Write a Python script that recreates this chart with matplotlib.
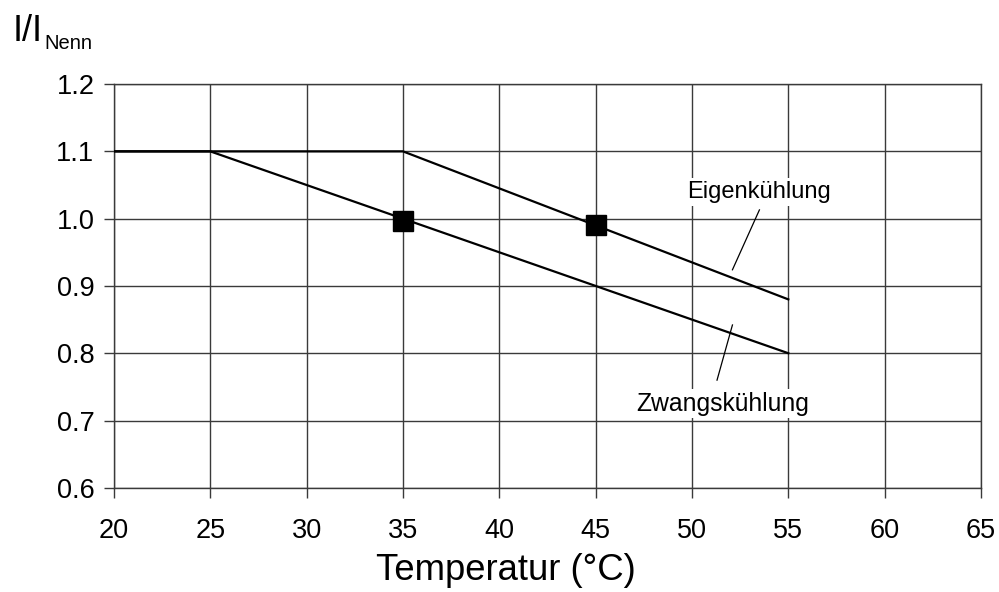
import matplotlib
matplotlib.use("Agg")
import matplotlib.pyplot as plt

plt.rcParams['font.family'] = ['Liberation Sans', 'DejaVu Sans']

eigen_x = [20, 35, 55]
eigen_y = [1.1, 1.1, 0.88]
zwang_x = [20, 25, 55]
zwang_y = [1.1, 1.1, 0.80]
marker_x = [35, 45]
marker_y = [0.997, 0.99]
xticks = [20, 25, 30, 35, 40, 45, 50, 55, 60, 65]
yticks = [0.6, 0.7, 0.8, 0.9, 1.0, 1.1, 1.2]

W, H = 9.99, 5.92
fig = plt.figure(figsize=(W, H), dpi=100)
ax = fig.add_axes([0.114, 0.176, 0.868, 0.682])
ax.set_xlim(20, 65)
ax.set_ylim(0.6, 1.2)
ax.set_xticks(xticks)
ax.set_yticks(yticks)
ax.set_yticklabels([f"{v:.1f}" for v in yticks])
ax.grid(True, color='#3a3a3a', linewidth=1.0)
ax.set_axisbelow(True)
for s in ax.spines.values():
    s.set_color('#3a3a3a')
    s.set_linewidth(1.0)
ax.tick_params(direction='out', length=7, width=1, color='#3a3a3a',
               labelsize=19.5)
ax.tick_params(axis='x', pad=15)
ax.tick_params(axis='y', pad=7)

ax.plot(eigen_x, eigen_y, color='black', linewidth=1.6, zorder=3)
ax.plot(zwang_x, zwang_y, color='black', linewidth=1.6, zorder=3)
ax.plot(marker_x, marker_y, linestyle='none', marker='s', markersize=14,
        color='black', zorder=4)

# leader lines
ax.plot([53.5, 52.1], [1.013, 0.924], color='black', linewidth=0.9, zorder=3)
ax.plot([52.1, 51.3], [0.842, 0.760], color='black', linewidth=0.9, zorder=3)

ax.text(53.5, 1.04, "Eigenkühlung", fontsize=17, ha='center', va='center',
        bbox=dict(facecolor='white', edgecolor='none', pad=2), zorder=5)
ax.text(51.6, 0.725, "Zwangskühlung", fontsize=17.8, ha='center', va='center',
        bbox=dict(facecolor='white', edgecolor='none', pad=2), zorder=5)

fig.text(506 / 999, 1 - 571 / 592, "Temperatur (°C)", fontsize=26.3,
         ha='center', va='center')
fig.text(13 / 999, 1 - 41 / 592, "I/I", fontsize=26, ha='left', va='baseline')
fig.text(44 / 999, 1 - 49 / 592, "Nenn", fontsize=14.5, ha='left', va='baseline')

fig.savefig("out.png", dpi=100)
